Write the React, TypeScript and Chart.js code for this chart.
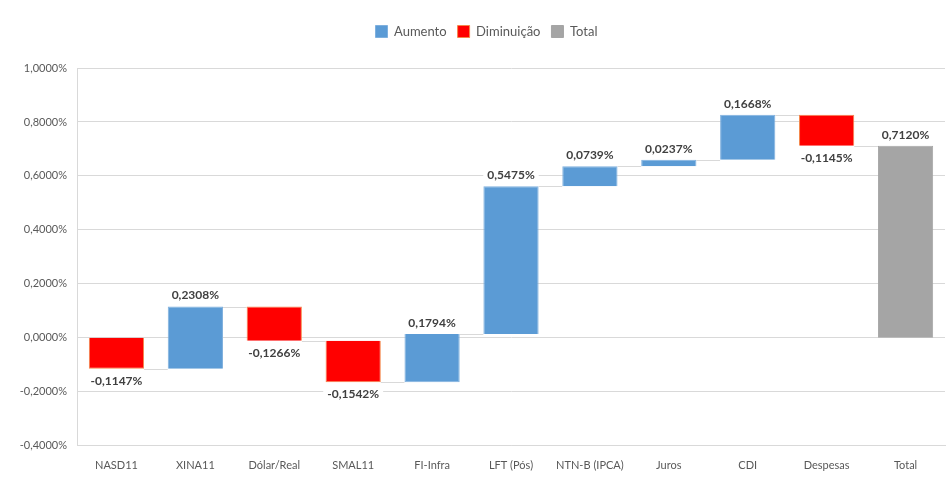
import React, { useEffect, useRef } from "react";
import { Chart, registerables } from "chart.js";

Chart.register(...registerables);

const categories = ["NASD11", "XINA11", "Dólar/Real", "SMAL11", "FI-Infra", "LFT (Pós)", "NTN-B (IPCA)", "Juros", "CDI", "Despesas", "Total"];
const changes = [-0.1147, 0.2308, -0.1266, -0.1542, 0.1794, 0.5475, 0.0739, 0.0237, 0.1668, -0.1145];
const totalValue = 0.712;
const yTicks = { min: -0.4, max: 1.0, step: 0.2 };

const FONT = "Lato, 'Liberation Sans', sans-serif";
const fmt = (v: number) => (Math.abs(v) < 1e-9 ? 0 : v).toFixed(4).replace(".", ",") + "%";

export default function App() {
  const ref = useRef<HTMLCanvasElement>(null);

  useEffect(() => {
    if (!ref.current) return;
    const ranges: [number, number][] = [];
    let run = 0;
    changes.forEach((c) => {
      ranges.push([run, run + c]);
      run += c;
    });
    const up = categories.map((_, i) => (i < changes.length && changes[i] > 0 ? ranges[i] : null));
    const down = categories.map((_, i) => (i < changes.length && changes[i] < 0 ? ranges[i] : null));
    const tot = categories.map((_, i) => (i === categories.length - 1 ? [0, totalValue] : null));
    const labelsVal = [...changes, totalValue];

    const legendSpacer = {
      id: "legendSpacer",
      beforeUpdate(chart: any) {
        const lg = chart.legend;
        if (lg && !lg.__patched) {
          const orig = lg.fit;
          lg.fit = function (this: any) {
            orig.call(this);
            this.height += 20;
          };
          lg.__patched = true;
        }
      },
      afterLayout(chart: any) {
        const lg = chart.legend;
        if (lg) {
          lg.left += 28;
        }
      },
    };

    const connectors = {
      id: "connectors",
      beforeDatasetsDraw(chart: any) {
        const ctx = chart.ctx;
        const y = chart.scales.y;
        const metas = [0, 1, 2].map((d) => chart.getDatasetMeta(d));
        const getEl = (i: number) => {
          for (const m of metas) {
            const raw = chart.data.datasets[m.index].data[i];
            if (raw) return m.data[i];
          }
          return null;
        };
        ctx.save();
        ctx.strokeStyle = "#D9D9D9";
        ctx.lineWidth = 1;
        let level = 0;
        for (let i = 0; i < categories.length - 1; i++) {
          level += changes[i];
          const a = getEl(i);
          const b = getEl(i + 1);
          if (!a || !b) continue;
          const py = Math.round(y.getPixelForValue(level)) + 0.5;
          ctx.beginPath();
          ctx.moveTo(a.x + a.width / 2, py);
          ctx.lineTo(b.x - b.width / 2, py);
          ctx.stroke();
        }
        ctx.restore();
      },
    };

    const dataLabels = {
      id: "dataLabels",
      afterDatasetsDraw(chart: any) {
        const ctx = chart.ctx;
        ctx.save();
        ctx.font = `bold 12px ${FONT}`;
        ctx.textAlign = "center";
        ctx.textBaseline = "middle";
        [0, 1, 2].forEach((d) => {
          const meta = chart.getDatasetMeta(d);
          meta.data.forEach((el: any, i: number) => {
            const raw = chart.data.datasets[d].data[i];
            if (!raw) return;
            const v = labelsVal[i];
            const top = Math.min(el.y, el.base);
            const bottom = Math.max(el.y, el.base);
            const text = fmt(v);
            const w = ctx.measureText(text).width + 8;
            const cy = v >= 0 ? top - 11 : bottom + 12;
            ctx.fillStyle = "#FFFFFF";
            ctx.fillRect(el.x - w / 2, cy - 9, w, 18);
            ctx.fillStyle = "#404040";
            ctx.fillText(text, el.x, cy);
          });
        });
        ctx.restore();
      },
    };

    const chart = new Chart(ref.current, {
      type: "bar",
      data: {
        labels: categories,
        datasets: [
          { label: "Aumento", data: up as any, backgroundColor: "#5B9BD5", borderColor: "#7FB0DE", borderWidth: 1, grouped: false } as any,
          { label: "Diminuição", data: down as any, backgroundColor: "#FF0000", borderColor: "#F4874B", borderWidth: 1, grouped: false } as any,
          { label: "Total", data: tot as any, backgroundColor: "#A5A5A5", borderColor: "#A5A5A5", borderWidth: 1, grouped: false } as any,
        ],
      },
      options: {
        animation: false,
        responsive: true,
        maintainAspectRatio: false,
        datasets: { bar: { barPercentage: 0.7, categoryPercentage: 1 } },
        layout: { padding: { top: 14, right: 2, left: 0, bottom: 0 } },
        plugins: {
          tooltip: { enabled: false },
          legend: {
            position: "top",
            labels: {
              boxWidth: 12,
              boxHeight: 12,
              padding: 11,
              color: "#595959",
              font: { family: FONT, size: 13 },
            },
          },
        },
        scales: {
          x: {
            grid: { display: false },
            border: { display: true, color: "#D9D9D9" },
            ticks: { color: "#595959", font: { family: FONT, size: 11 }, maxRotation: 0, autoSkip: false, padding: 5 },
          },
          y: {
            min: yTicks.min,
            max: yTicks.max,
            grid: { color: "#D9D9D9", drawTicks: false },
            border: { display: true, color: "#D9D9D9" },
            ticks: {
              stepSize: yTicks.step,
              color: "#595959",
              font: { family: FONT, size: 11 },
              padding: 10,
              callback: (v: any) => fmt(Number(v)),
            },
            afterFit: (s: any) => {
              s.width = 77;
            },
          },
        },
      },
      plugins: [legendSpacer, connectors, dataLabels],
    });
    return () => chart.destroy();
  }, []);

  return (
    <div style={{ position: "fixed", left: 0, top: 0, width: 947, height: 477, background: "#fff" }}>
      <canvas ref={ref} />
    </div>
  );
}
